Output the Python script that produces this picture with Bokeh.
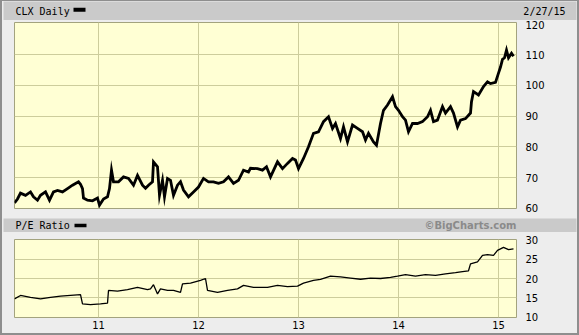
from bokeh.plotting import figure
from bokeh.models import Range1d, FixedTicker, Label, BoxAnnotation, ColumnDataSource
from bokeh.layouts import column
from bokeh.embed import file_html
from bokeh.resources import INLINE

# ---------------- data ----------------
upper_title = "CLX Daily"
last_date = "2/27/15"
lower_title = "P/E Ratio"
credit = "©BigCharts.com"

price_t = [2010.16, 2010.19, 2010.22, 2010.27, 2010.32, 2010.35, 2010.39, 2010.42, 2010.47, 2010.51,
           2010.55, 2010.59, 2010.64, 2010.69, 2010.74, 2010.80, 2010.82, 2010.84, 2010.85, 2010.89,
           2010.94, 2010.99, 2011.01, 2011.05, 2011.09, 2011.11, 2011.13, 2011.15, 2011.20, 2011.25,
           2011.30, 2011.35, 2011.39, 2011.44, 2011.47, 2011.50, 2011.54, 2011.55, 2011.59, 2011.61,
           2011.64, 2011.66, 2011.69, 2011.72, 2011.75, 2011.79, 2011.82, 2011.85, 2011.90, 2011.95,
           2012.00, 2012.05, 2012.10, 2012.15, 2012.20, 2012.25, 2012.30, 2012.35, 2012.40, 2012.45,
           2012.50, 2012.52, 2012.59, 2012.64, 2012.68, 2012.72, 2012.79, 2012.84, 2012.89, 2012.94,
           2012.97, 2013.00, 2013.05, 2013.10, 2013.15, 2013.20, 2013.25, 2013.30, 2013.34, 2013.37,
           2013.42, 2013.45, 2013.49, 2013.54, 2013.59, 2013.64, 2013.67, 2013.70, 2013.75, 2013.78,
           2013.82, 2013.85, 2013.89, 2013.94, 2013.97, 2014.00, 2014.04, 2014.07, 2014.10, 2014.14,
           2014.19, 2014.24, 2014.29, 2014.32, 2014.35, 2014.39, 2014.44, 2014.47, 2014.52, 2014.55,
           2014.59, 2014.62, 2014.67, 2014.72, 2014.73, 2014.75, 2014.80, 2014.85, 2014.89, 2014.92,
           2014.97, 2015.00, 2015.02, 2015.04, 2015.06, 2015.08, 2015.10, 2015.13, 2015.15]
price = [61.7, 63.0, 64.9, 64.2, 65.3, 63.7, 62.6, 64.2, 65.3, 62.6,
         65.3, 65.8, 65.3, 66.4, 67.5, 68.6, 67.8, 66.4, 63.3, 62.6,
         62.4, 63.3, 61.0, 63.0, 63.7, 66.4, 72.4, 68.6, 68.6, 70.2,
         69.7, 67.5, 70.7, 67.5, 66.5, 67.5, 68.6, 75.1, 73.5, 64.2,
         69.1, 63.7, 69.7, 69.1, 64.2, 67.5, 68.6, 65.9, 63.7, 65.3,
         66.9, 69.7, 68.6, 68.6, 68.1, 68.6, 70.2, 68.1, 69.1, 72.4,
         71.8, 73.0, 72.9, 72.4, 73.5, 70.2, 75.1, 72.9, 74.6, 76.2,
         75.7, 72.9, 76.2, 80.0, 84.4, 84.9, 88.2, 89.8, 86.0, 87.6,
         82.7, 86.5, 81.6, 87.1, 86.0, 84.9, 82.2, 84.4, 81.6, 80.5,
         87.6, 91.9, 93.6, 96.3, 93.1, 91.9, 89.8, 88.7, 84.9, 87.6,
         87.6, 88.2, 89.8, 91.9, 88.2, 88.7, 93.1, 91.0, 93.1, 91.0,
         86.5, 88.7, 89.2, 91.0, 94.7, 98.0, 96.9, 99.6, 101.2, 100.6,
         101.0, 104.0, 106.0, 108.5, 109.0, 111.5, 109.0, 110.5, 109.5]

pe_t = [2010.16, 2010.22, 2010.32, 2010.42, 2010.52, 2010.62, 2010.72, 2010.82, 2010.84, 2010.92,
        2011.02, 2011.09, 2011.10, 2011.19, 2011.29, 2011.39, 2011.49, 2011.52, 2011.55, 2011.59,
        2011.62, 2011.69, 2011.75, 2011.82, 2011.84, 2011.92, 2012.02, 2012.07, 2012.09, 2012.19,
        2012.29, 2012.39, 2012.45, 2012.55, 2012.69, 2012.79, 2012.89, 2012.99, 2013.05, 2013.15,
        2013.22, 2013.32, 2013.42, 2013.52, 2013.62, 2013.72, 2013.82, 2013.92, 2013.99, 2014.07,
        2014.17, 2014.27, 2014.37, 2014.47, 2014.57, 2014.64, 2014.70, 2014.72, 2014.79, 2014.84,
        2014.89, 2014.95, 2014.99, 2015.05, 2015.10, 2015.15]
pe = [14.7, 15.6, 15.1, 14.7, 15.1, 15.4, 15.6, 15.8, 13.4, 13.2,
      13.4, 13.6, 16.9, 16.7, 17.1, 17.7, 17.1, 17.3, 18.4, 16.0,
      17.3, 16.9, 16.9, 16.4, 18.6, 18.8, 19.5, 20.0, 16.9, 16.4,
      16.9, 17.3, 18.2, 17.7, 17.7, 18.2, 17.9, 18.0, 18.8, 19.5,
      19.8, 20.6, 20.4, 20.1, 19.8, 20.1, 20.0, 20.3, 20.6, 21.0,
      20.6, 21.0, 20.8, 21.2, 21.5, 21.8, 22.0, 23.8, 24.3, 26.0,
      26.2, 26.0, 27.3, 28.1, 27.5, 27.7]

year_ticks = [2011, 2012, 2013, 2014, 2015]
year_labels = ["11", "12", "13", "14", "15"]
price_ticks = [60, 70, 80, 90, 100, 110, 120]
pe_ticks = [10, 15, 20, 25, 30]

# ---------------- style ----------------
BG = "#EDEDED"
BAR = "#CACACA"
PLOT = "#FFFFD4"
GRID = "#CDCD9C"
OUT = "#A3A37E"
MONO = "DejaVu Sans Mono"
SANS = "DejaVu Sans"
W = 575

xr = Range1d(2010.16, 2015.18)


def bar_fig(height, top):
    p = figure(width=W, height=height, x_range=Range1d(0, 573), y_range=Range1d(0, 19 if top == 0 else 14),
               min_border_left=1, min_border_right=1, min_border_top=top, min_border_bottom=0,
               toolbar_location=None, output_backend="svg", x_axis_location=None, y_axis_location=None,
               background_fill_color=BAR, border_fill_color=BG, outline_line_color=None, title=None,
               frame_align=False)
    p.grid.visible = False
    return p


# header bar (global y 1..20)
ph = bar_fig(19, 0)
ph.add_layout(Label(x=12, y=9.5, text=upper_title, text_font=MONO, text_font_size="10px",
                    text_baseline="middle", text_align="left", text_color="#000000"))
ph.add_layout(BoxAnnotation(left=70, right=82, top=12.7, bottom=8.7, fill_color="#000000",
                            fill_alpha=1, line_color=None))
ph.add_layout(Label(x=562, y=9.5, text=last_date, text_font=MONO, text_font_size="10px",
                    text_baseline="middle", text_align="right", text_color="#000000"))

# price panel (frame global y 22..208)
pb = figure(width=W, height=195, x_range=xr, y_range=Range1d(59.9, 120.5),
            min_border_left=12, min_border_right=61, min_border_top=2, min_border_bottom=7,
            toolbar_location=None, output_backend="svg", x_axis_location=None, y_axis_location="right",
            background_fill_color=PLOT, border_fill_color=BG, outline_line_color=OUT, title=None,
            frame_align=False)
pb.yaxis.ticker = FixedTicker(ticks=price_ticks)
pb.ygrid.ticker = FixedTicker(ticks=price_ticks[1:-1])
pb.xgrid.ticker = FixedTicker(ticks=year_ticks)
pb.grid.grid_line_color = GRID
pb.grid.grid_line_width = 1
pb.yaxis.axis_line_color = None
pb.yaxis.major_tick_line_color = None
pb.yaxis.minor_tick_line_color = None
pb.yaxis.major_tick_out = 0
pb.yaxis.major_tick_in = 0
pb.yaxis.major_label_standoff = 9
pb.yaxis.major_label_text_font = SANS
pb.yaxis.major_label_text_font_size = "10px"
pb.yaxis.major_label_text_color = "#000000"
src_p = ColumnDataSource(dict(t=price_t, v=price))
pb.line("t", "v", source=src_p, line_color="#000000", line_width=2.8, line_join="miter")

# middle bar (global y 218..232)
pm = bar_fig(17, 3)
pm.add_layout(Label(x=12, y=7, text=lower_title, text_font=MONO, text_font_size="10px",
                    text_baseline="middle", text_align="left", text_color="#000000"))
pm.add_layout(BoxAnnotation(left=71, right=83, top=8.7, bottom=5.3, fill_color="#000000",
                            fill_alpha=1, line_color=None))
pm.add_layout(Label(x=513, y=7, text=credit, text_font=SANS, text_font_size="10px",
                    text_font_style="bold", text_baseline="middle", text_align="right",
                    text_color="#8A8A8A"))

# P/E panel (frame global y 239..317)
pd_ = figure(width=W, height=101, x_range=xr, y_range=Range1d(9.87, 30.13),
             min_border_left=12, min_border_right=61, min_border_top=7, min_border_bottom=16,
             toolbar_location=None, output_backend="svg", x_axis_location="below", y_axis_location="right",
             background_fill_color=PLOT, border_fill_color=BG, outline_line_color=OUT, title=None,
             frame_align=False)
pd_.yaxis.ticker = FixedTicker(ticks=pe_ticks)
pd_.ygrid.ticker = FixedTicker(ticks=pe_ticks[1:-1])
pd_.xaxis.ticker = FixedTicker(ticks=year_ticks)
pd_.xaxis.major_label_overrides = {y: l for y, l in zip(year_ticks, year_labels)}
pd_.grid.grid_line_color = GRID
pd_.grid.grid_line_width = 1
for ax in (pd_.xaxis, pd_.yaxis):
    ax.axis_line_color = None
    ax.major_tick_line_color = None
    ax.minor_tick_line_color = None
    ax.major_tick_out = 0
    ax.major_tick_in = 0
    ax.major_label_text_font = SANS
    ax.major_label_text_font_size = "10px"
    ax.major_label_text_color = "#000000"
pd_.yaxis.major_label_standoff = 9
pd_.xaxis.major_label_standoff = 3
src_e = ColumnDataSource(dict(t=pe_t, v=pe))
pd_.line("t", "v", source=src_e, line_color="#000000", line_width=1.3)

layout = column(ph, pb, pm, pd_, spacing=0,
                styles={"border-style": "solid", "border-color": "#8E8E8E",
                        "border-width": "1px 2px 2px 2px", "background-color": BG})

open("out.html", "w").write(file_html(layout, INLINE))
